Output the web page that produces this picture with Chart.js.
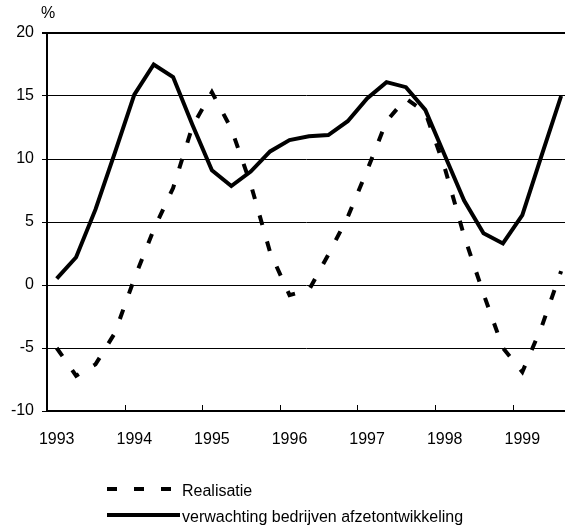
<!DOCTYPE html>
<html>
<head>
<meta charset="utf-8">
<script src="https://cdn.jsdelivr.net/npm/chart.js@4.4.1/dist/chart.umd.min.js"></script>
<style>
  html, body { margin: 0; padding: 0; background: #fff; overflow: hidden; }
</style>
</head>
<body>
<canvas id="grafiek" width="565" height="529"></canvas>
<script>
// kwartalen 1993 K1 t/m 1999 K3
const kwartalen = [
  '1993 K1', '1993 K2', '1993 K3', '1993 K4',
  '1994 K1', '1994 K2', '1994 K3', '1994 K4',
  '1995 K1', '1995 K2', '1995 K3', '1995 K4',
  '1996 K1', '1996 K2', '1996 K3', '1996 K4',
  '1997 K1', '1997 K2', '1997 K3', '1997 K4',
  '1998 K1', '1998 K2', '1998 K3', '1998 K4',
  '1999 K1', '1999 K2', '1999 K3'
];
const jaren = ['1993', '1994', '1995', '1996', '1997', '1998', '1999'];

const realisatie = [
  -5.0, -7.2, -6.3, -3.8, 0.5, 4.4, 7.7, 12.6,
  15.3, 12.4, 8.0, 2.6, -0.8, -0.4, 2.4, 5.4,
  9.1, 13.0, 14.8, 13.7, 9.3, 3.9, -0.7, -5.0,
  -6.9, -3.3, 1.1
];
const verwachting = [
  0.5, 2.2, 6.0, 10.5, 15.1, 17.5, 16.5, 12.7,
  9.1, 7.85, 9.0, 10.6, 11.5, 11.8, 11.9, 13.0,
  14.8, 16.1, 15.7, 13.9, 10.3, 6.7, 4.1, 3.3,
  5.55, 10.3, 15.0
];

const yMin = -10, yMax = 20, yStap = 5;
const lettertype = "'Liberation Sans', Arial, sans-serif";

// punt i = kwartaal i op een lineaire as (rechts loopt de grafiek van het beeld af)
const punten = reeks => reeks.map((v, i) => ({ x: i, y: v }));

// eigen legenda, tick-streepjes en % label
const extra = {
  id: 'extra',
  afterDraw(chart) {
    const c = chart.ctx;
    const x = chart.scales.x;
    const y = chart.scales.y;
    c.save();
    // tick-streepjes op de x-as tussen de jaren, naar binnen
    c.strokeStyle = '#000';
    c.lineWidth = 1;
    for (let k = 1; k < jaren.length; k++) {
      const px = Math.round(x.getPixelForValue(4 * k - 0.5)) + 0.5;
      c.beginPath();
      c.moveTo(px, y.bottom);
      c.lineTo(px, y.bottom - 6);
      c.stroke();
    }
    c.fillStyle = '#000';
    c.font = '16px ' + lettertype;
    c.textBaseline = 'middle';
    c.textAlign = 'left';
    c.fillText('%', 41, 14);

    // legenda
    const ds = chart.data.datasets;
    const rijen = [489, 515];
    ds.forEach((d, i) => {
      c.strokeStyle = d.borderColor;
      c.lineWidth = d.borderWidth;
      c.setLineDash(d.borderDash || []);
      c.beginPath();
      c.moveTo(107, rijen[i]);
      c.lineTo(i === 0 ? 171 : 180, rijen[i]);
      c.stroke();
      c.setLineDash([]);
      c.fillText(d.label, 182, rijen[i] + 3);
    });
    c.restore();
  }
};

new Chart(document.getElementById('grafiek'), {
  type: 'line',
  data: {
    labels: kwartalen,
    datasets: [
      {
        label: 'Realisatie',
        data: punten(realisatie),
        borderColor: '#000',
        borderWidth: 4,
        borderDash: [10, 17],
        pointRadius: 0,
        tension: 0,
        fill: false
      },
      {
        label: 'verwachting bedrijven afzetontwikkeling',
        data: punten(verwachting),
        borderColor: '#000',
        borderWidth: 4,
        pointRadius: 0,
        tension: 0,
        fill: false
      }
    ]
  },
  options: {
    responsive: false,
    animation: false,
    layout: { padding: { top: 33, left: 0, right: 0, bottom: 0 } },
    plugins: { legend: { display: false }, tooltip: { enabled: false } },
    scales: {
      x: {
        type: 'linear',
        min: -0.5,
        max: 26.2,
        grid: { display: false },
        border: { display: true, color: '#000', width: 2 },
        afterBuildTicks: s => { s.ticks = jaren.map((j, k) => ({ value: 4 * k })); },
        ticks: {
          autoSkip: false,
          maxRotation: 0,
          padding: 11,
          color: '#000',
          font: { family: lettertype, size: 16 },
          callback: v => jaren[v / 4]
        },
        afterFit: s => { s.height = 118; }
      },
      y: {
        min: yMin,
        max: yMax,
        grid: {
          color: '#000',
          lineWidth: ctx => (ctx.tick && ctx.tick.value === yMax ? 2 : 1),
          tickLength: 5
        },
        border: { display: true, color: '#000', width: 2 },
        ticks: {
          stepSize: yStap,
          padding: 8,
          color: '#000',
          font: { family: lettertype, size: 16 }
        },
        afterFit: s => { s.width = 47; }
      }
    }
  },
  plugins: [extra]
});
</script>
</body>
</html>
